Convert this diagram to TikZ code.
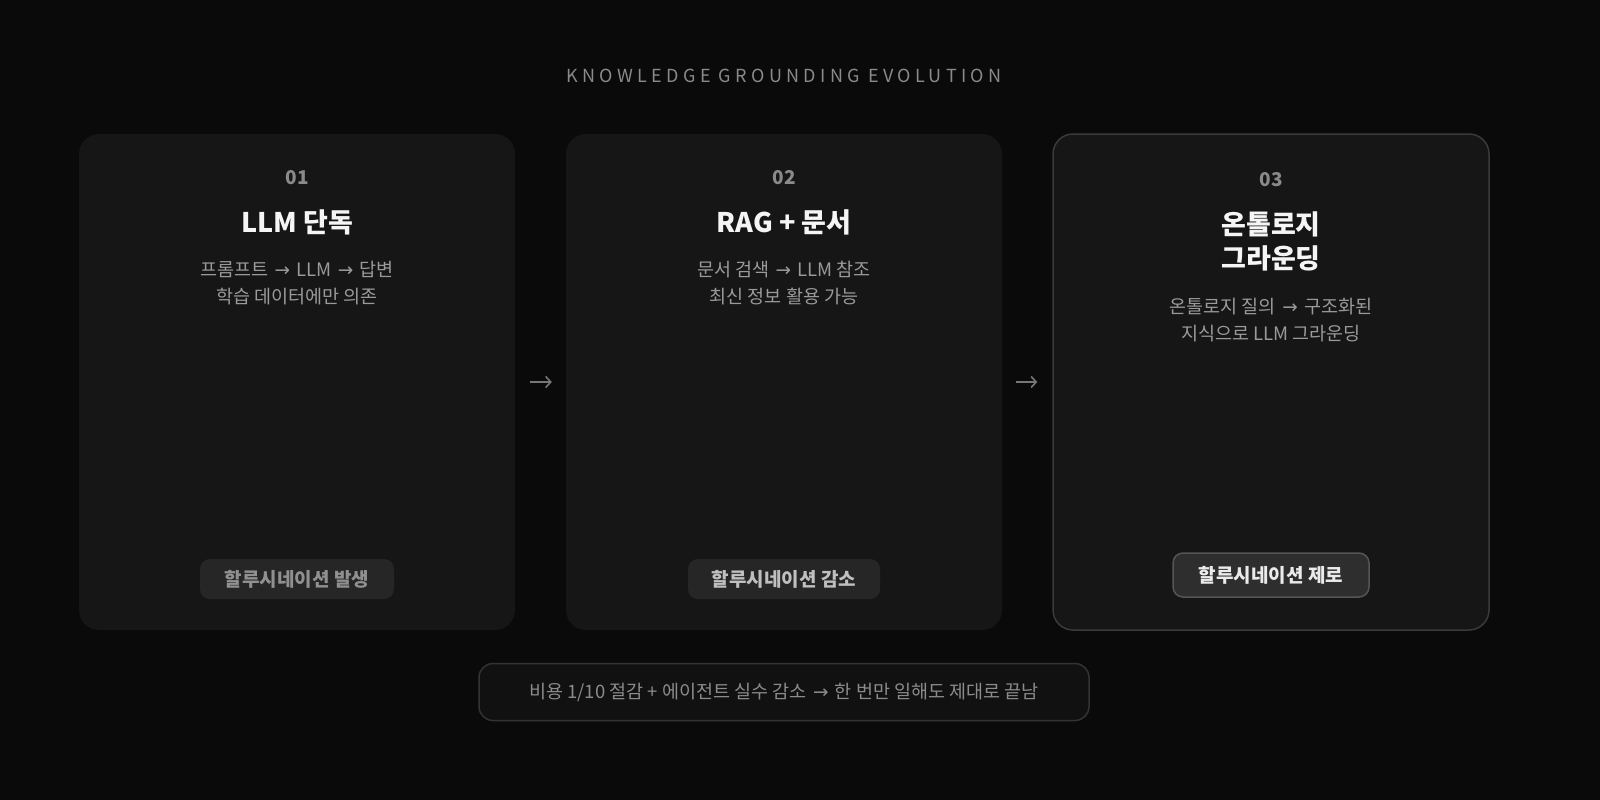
\documentclass[tikz,border=0pt]{standalone}
\usepackage{fontspec}
\setmainfont{Noto Sans CJK KR}
\newfontfamily\hdrfont[LetterSpace=24]{Noto Sans CJK KR}
\newfontfamily\arrfont{DejaVu Sans}
\newcommand{\rarr}{\hspace{0.12em}{\arrfont →}\hspace{0.12em}}
\usetikzlibrary{arrows.meta}
\definecolor{bg}{HTML}{0A0A0A}
\definecolor{cardfill}{HTML}{161616}
\definecolor{cardedge}{HTML}{3A3A3A}
\definecolor{numgray}{HTML}{8A8A8A}
\definecolor{descgray}{HTML}{9A9A9A}
\definecolor{titlewhite}{HTML}{F5F5F5}
\definecolor{badgefill}{HTML}{262626}
\definecolor{badgefillb}{HTML}{2E2E2E}
\definecolor{badgeedge}{HTML}{555555}
\definecolor{arrowgray}{HTML}{777777}
\definecolor{footfill}{HTML}{111111}
\definecolor{footedge}{HTML}{333333}
\begin{document}
\begin{tikzpicture}[x=1pt,y=-1pt,
  card/.style={fill=cardfill, rounded corners=20pt, minimum width=436pt, minimum height=496pt, inner sep=0pt},
  numtext/.style={text=numgray, font=\fontsize{19}{22}\selectfont\bfseries},
  titletext/.style={text=titlewhite, font=\fontsize{27}{34}\selectfont\bfseries, align=center},
  desctext/.style={text=descgray, font=\fontsize{18.5}{27}\selectfont, align=center},
  badge/.style={fill=badgefill, rounded corners=10pt, minimum height=40pt, inner xsep=0pt, font=\fontsize{19}{22}\selectfont\bfseries},
  flow/.style={draw=arrowgray, line width=1.6pt, -{Straight Barb[length=5pt,width=11pt,line width=1.6pt]}},
]
\useasboundingbox[fill=bg] (0,0) rectangle (1600,800);

\node[text=numgray, font=\hdrfont\fontsize{18}{20}\selectfont] (hdr) at (784,76) {KNOWLEDGE GROUNDING EVOLUTION};

% cards
\node[card] (c1) at (297,382) {};
\node[card] (c2) at (784,382) {};
\node[card, draw=cardedge, line width=1.5pt] (c3) at (1271,382) {};

% card 1
\node[numtext] (n1) at (297,178) {01};
\node[titletext] (t1) at (297,222) {LLM 단독};
\node[desctext] (d1) at (297,283) {프롬프트 \rarr{} LLM \rarr{} 답변\\학습 데이터에만 의존};
\node[badge, minimum width=194pt, text=descgray!110] (b1) at (297,579) {할루시네이션 발생};

% card 2
\node[numtext] (n2) at (784,178) {02};
\node[titletext] (t2) at (784,222) {RAG + 문서};
\node[desctext] (d2) at (784,283) {문서 검색 \rarr{} LLM 참조\\최신 정보 활용 가능};
\node[badge, minimum width=192pt, text=black!25] (b2) at (784,579) {할루시네이션 감소};

% card 3
\node[numtext] (n3) at (1271,180) {03};
\node[titletext] (t3) at (1271,241) {온톨로지\\그라운딩};
\node[desctext] (d3) at (1271,320) {온톨로지 질의 \rarr{} 구조화된\\지식으로 LLM 그라운딩};
\node[badge, fill=badgefillb, draw=badgeedge, line width=1.5pt, minimum width=196pt, minimum height=44pt, text=black!8] (b3) at (1271,575) {할루시네이션 제로};

% arrows between cards
\draw[flow] ([xshift=15pt]c1.east) -- ([xshift=-14pt]c2.west);
\draw[flow] ([xshift=14pt]c2.east) -- ([xshift=-15pt]c3.west);

% footer
\node[fill=footfill, draw=footedge, line width=1.5pt, rounded corners=14pt, minimum width=610pt, minimum height=57pt, text=descgray!115, font=\fontsize{18.5}{20}\selectfont] (foot) at (784,692) {비용 1/10 절감 + 에이전트 실수 감소 \rarr{} 한 번만 일해도 제대로 끝남};
\end{tikzpicture}
\end{document}
